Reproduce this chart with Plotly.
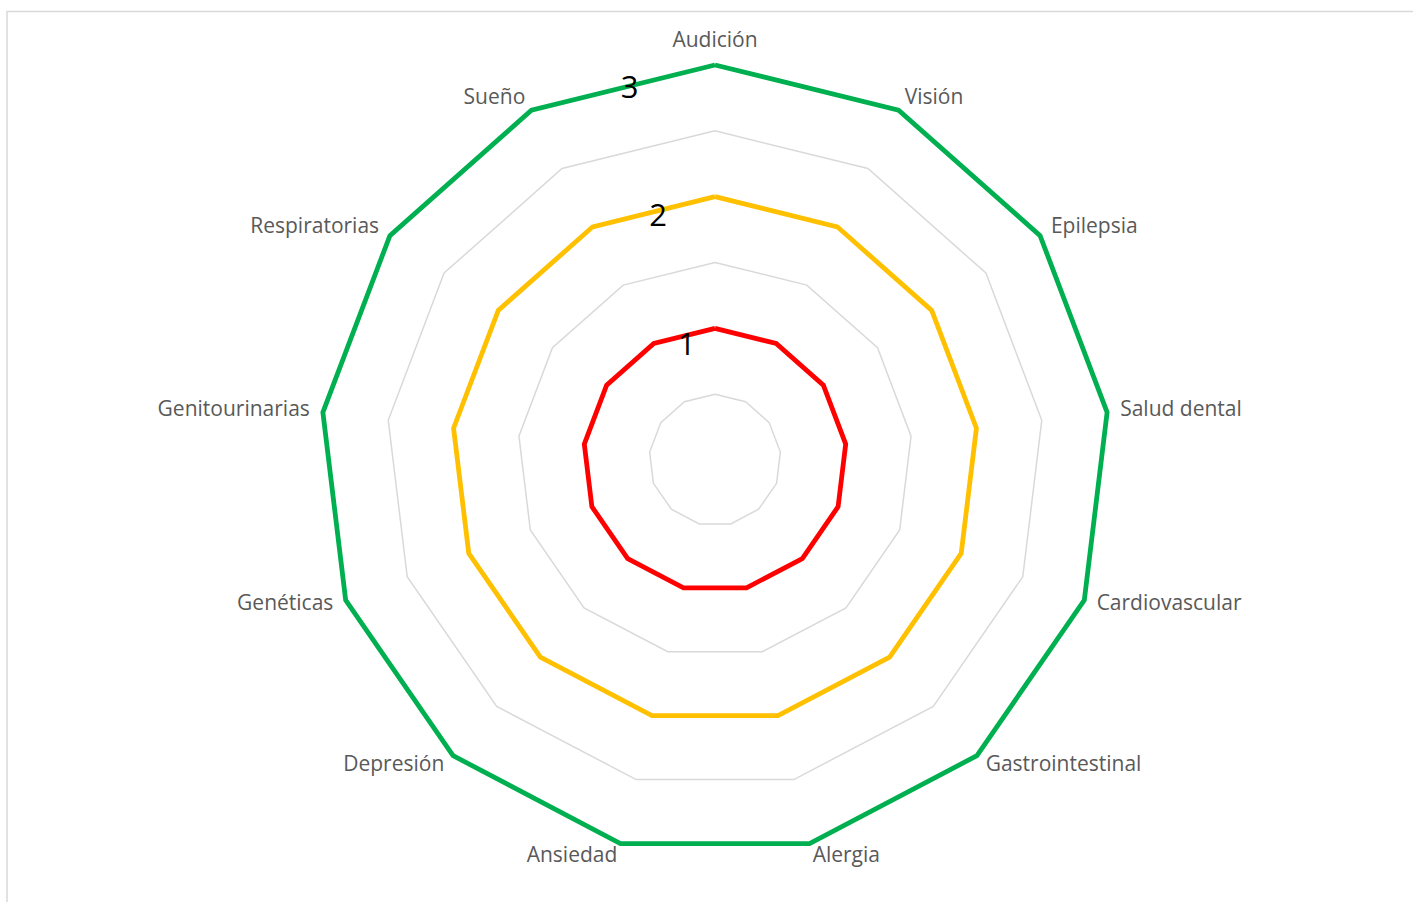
import math
import plotly.graph_objects as go

# Health areas around the radar, clockwise from the top
categories = [
    "Audición", "Visión", "Epilepsia", "Salud dental", "Cardiovascular",
    "Gastrointestinal", "Alergia", "Ansiedad", "Depresión", "Genéticas",
    "Genitourinarias", "Respiratorias", "Sueño",
]

# Level series (one constant ring per level)
nivel_bajo = [1] * 13
nivel_medio = [2] * 13
nivel_alto = [3] * 13

# Minor grid rings and value labels
grid_vals = [0.5, 1.5, 2.5]
label_vals = [1, 2, 3]
label_text = ["1", "2", "3"]

series = [
    ("Bajo", nivel_bajo, "#FF0000"),
    ("Medio", nivel_medio, "#FFC000"),
    ("Alto", nivel_alto, "#00B050"),
]

n = len(categories)
step = 360.0 / n
theta_cat = [i * step for i in range(n)]
theta_closed = theta_cat + theta_cat[:1]

FONT = "Open Sans, sans-serif"

fig = go.Figure()

# light grey polygon rings
for g in grid_vals:
    fig.add_trace(go.Scatterpolar(
        r=[g] * (n + 1), theta=theta_closed, mode="lines",
        line=dict(color="#D9D9D9", width=1.5),
        hoverinfo="skip",
    ))

# coloured level rings
for name, vals, color in series:
    fig.add_trace(go.Scatterpolar(
        r=vals + vals[:1],
        theta=theta_closed,
        mode="lines",
        name=name,
        line=dict(color=color, width=4.8),
        hoverinfo="skip",
    ))


# category labels just outside the outer ring, anchored away from the centre
def text_anchor(angle_deg):
    s = math.sin(math.radians(angle_deg))
    c = math.cos(math.radians(angle_deg))
    if abs(s) < 0.05:
        return "top center" if c > 0 else "bottom center"
    return "middle right" if s > 0 else "middle left"


label_r = 3.1
fig.add_trace(go.Scatterpolar(
    r=[label_r] * n,
    theta=theta_cat,
    mode="text",
    text=categories,
    textposition=[text_anchor(a) for a in theta_cat],
    textfont=dict(family=FONT, size=21, color="#595959"),
    cliponaxis=False,
    hoverinfo="skip",
))

# value labels just left of the top spoke
value_angle = -12.5
fig.add_trace(go.Scatterpolar(
    r=label_vals,
    theta=[value_angle] * len(label_vals),
    mode="text",
    text=label_text,
    textposition="bottom center",
    textfont=dict(family=FONT, size=31, color="#000000"),
    cliponaxis=False,
    hoverinfo="skip",
))

W, H = 1413, 902
cx, cy, R3 = 715, 460, 395      # centre and pixel radius of value 3
r_max = 3.2
R = R3 * r_max / 3

fig.update_layout(
    width=W, height=H,
    margin=dict(l=0, r=0, t=0, b=0),
    paper_bgcolor="white",
    plot_bgcolor="white",
    showlegend=False,
    polar=dict(
        domain=dict(x=[(cx - R) / W, (cx + R) / W],
                    y=[(H - cy - R) / H, (H - cy + R) / H]),
        bgcolor="rgba(0,0,0,0)",
        angularaxis=dict(
            type="linear",
            thetaunit="degrees",
            direction="clockwise",
            rotation=90,
            showgrid=False,
            showline=False,
            showticklabels=False,
            ticks="",
        ),
        radialaxis=dict(
            range=[0, r_max],
            showgrid=False,
            showline=False,
            showticklabels=False,
            ticks="",
        ),
    ),
    shapes=[
        dict(type="rect", xref="paper", yref="paper",
             x0=7 / W, x1=1.02, y0=-0.02, y1=(H - 11.5) / H,
             line=dict(color="#D9D9D9", width=1.5), fillcolor="rgba(0,0,0,0)",
             layer="below"),
    ],
)

fig.write_html("out.html")
